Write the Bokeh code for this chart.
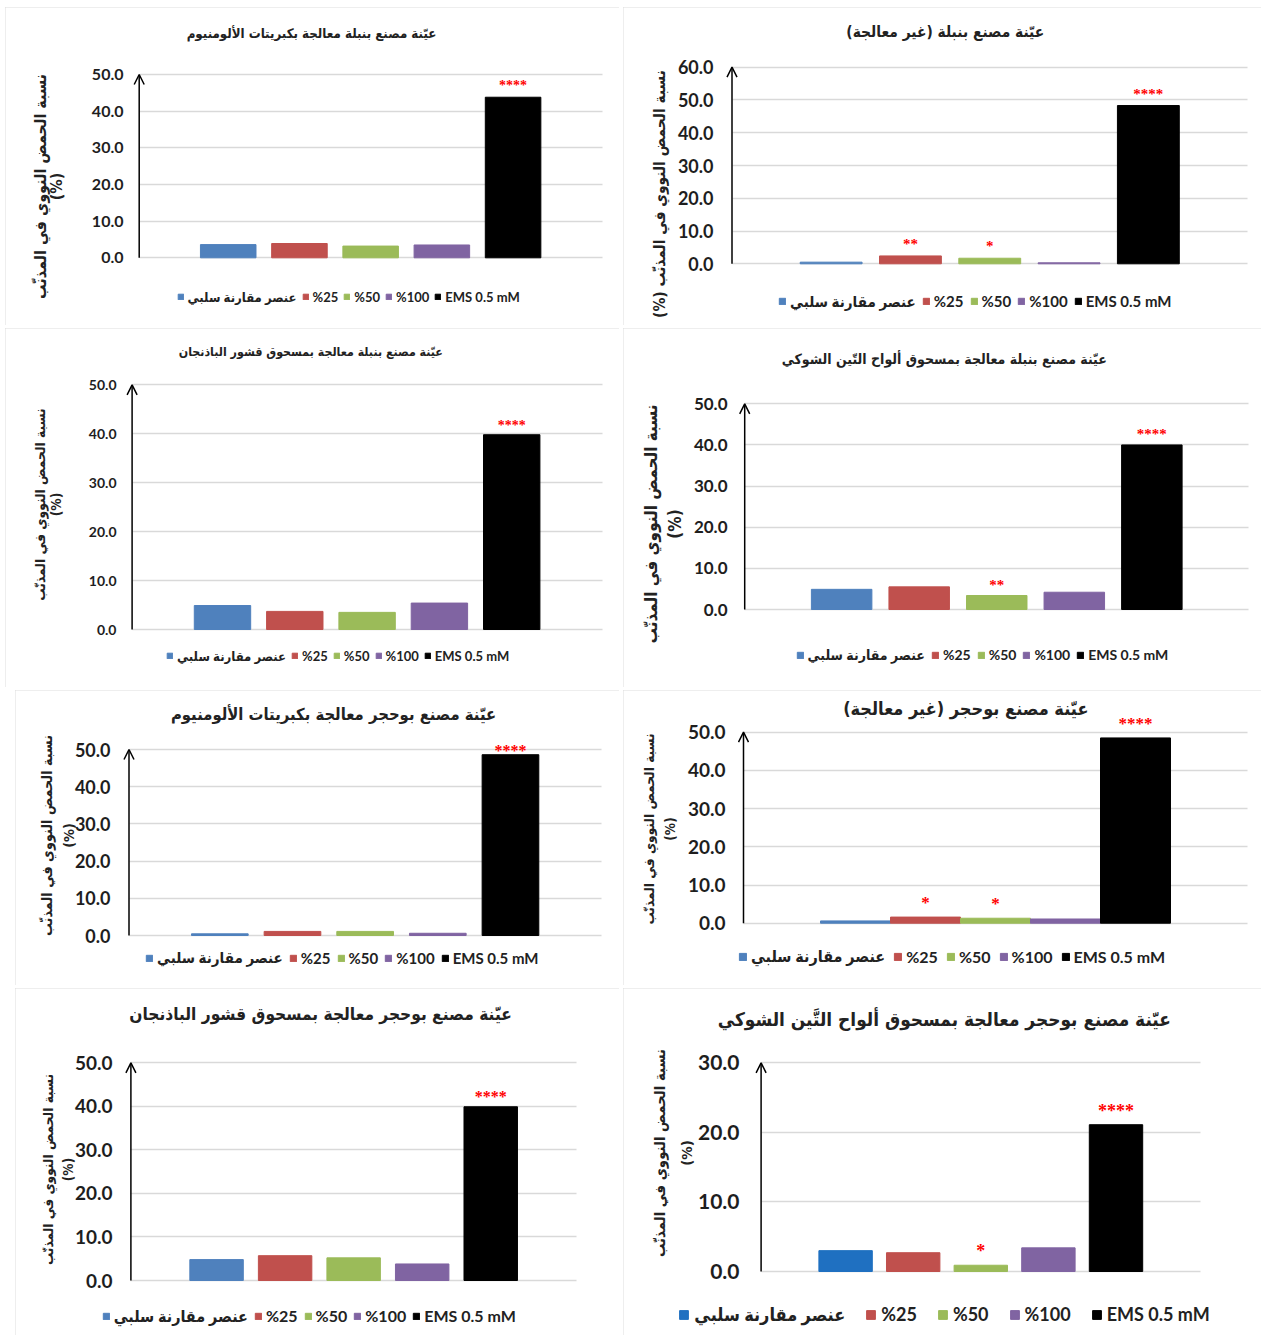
import math
from bokeh.plotting import figure
from bokeh.models import (Range1d, FixedTicker, PrintfTickFormatter, Label, LabelSet,
                          ColumnDataSource, Arrow, OpenHead, Spacer)
from bokeh.layouts import row, column
from bokeh.embed import file_html
from bokeh.resources import INLINE

# ---------------- data ----------------
categories = ["عنصر مقارنة سلبي", "%25", "%50", "%100", "EMS 0.5 mM"]

titles = [
    "عيّنة مصنع بنبلة معالجة بكبريتات الألومنيوم",
    "\u200fعيّنة مصنع بنبلة (غير معالجة)\u200f",
    "عيّنة مصنع بنبلة معالجة بمسحوق قشور الباذنجان",
    "عيّنة مصنع بنبلة معالجة بمسحوق ألواح التّين الشوكي",
    "عيّنة مصنع بوحجر معالجة بكبريتات الألومنيوم",
    "\u200fعيّنة مصنع بوحجر (غير معالجة)\u200f",
    "عيّنة مصنع بوحجر معالجة بمسحوق قشور الباذنجان",
    "عيّنة مصنع بوحجر معالجة بمسحوق ألواح التَّين الشوكي",
]

axis_title = "نسبة الحمض النووي في المذنّب"
axis_unit = "(%)"

vals_1 = [3.6, 3.9, 3.2, 3.5, 43.8]
vals_2 = [0.5, 2.4, 1.7, 0.3, 48.3]
vals_3 = [4.9, 3.7, 3.5, 5.4, 39.8]
vals_4 = [4.9, 5.5, 3.4, 4.2, 40.0]
vals_5 = [0.45, 1.1, 1.1, 0.6, 48.6]
vals_6 = [0.6, 1.6, 1.3, 1.1, 48.5]
vals_7 = [4.8, 5.7, 5.2, 3.8, 39.9]
vals_8 = [3.0, 2.7, 0.9, 3.4, 21.1]

stars_1 = ["", "", "", "", "****"]
stars_2 = ["", "**", "*", "", "****"]
stars_3 = ["", "", "", "", "****"]
stars_4 = ["", "", "**", "", "****"]
stars_5 = ["", "", "", "", "****"]
stars_6 = ["", "*", "*", "", "****"]
stars_7 = ["", "", "", "", "****"]
stars_8 = ["", "", "*", "", "****"]

y_max = [50, 60, 50, 50, 50, 50, 50, 30]
y_step = 10

# ---------------- styles / geometry (page pixel positions) ----------------
COLORS = ["#4F81BD", "#C0504D", "#9BBB59", "#8064A2", "#000000"]
COLORS_8 = ["#1F70C1", "#C0504D", "#9BBB59", "#8064A2", "#000000"]
AR_FONT = "DejaVu Sans Condensed, DejaVu Sans"
NUM_FONT = "Lato"
TXT = "#222222"

geo = [
    dict(fx=5, fy=7, w=614, h=318, pad=1.25, bw=0.78,
         ax=138.7, gr=601.6, y0=257.3, ym=74, tr=123.3, tk=16,
         tcx=311, tcy=33.3, tf=13.2, amx=39.5, apx=56, acy=186, af=16,
         llx=176.5, lcy=296.7, lf=13, lg=7, lsp=5, lst=4, sf=14, so=7),
    dict(fx=623, fy=7, w=638, h=318, pad=1.25, bw=0.78,
         ax=731.5, gr=1247, y0=263.3, ym=66.7, tr=713.4, tk=18,
         tcx=944.8, tcy=31.7, tf=15.4, amx=659, apx=None, acy=193.5, af=15.4,
         llx=778, lcy=301.7, lf=15, lg=8, lsp=6, lst=4, sf=15, so=7),
    dict(fx=5, fy=328, w=614, h=359, pad=1.25, bw=0.78,
         ax=131.6, gr=601.6, y0=629, ym=384.3, tr=115.8, tk=14,
         tcx=310.3, tcy=351, tf=12.3, amx=39.5, apx=55, acy=504, af=13.7,
         llx=166, lcy=656, lf=13, lg=7, lsp=5, lst=4, sf=14, so=5),
    dict(fx=623, fy=328, w=638, h=359, pad=1.25, bw=0.78,
         ax=744.2, gr=1248.3, y0=609, ym=403.3, tr=727.4, tk=17,
         tcx=943.8, tcy=358.3, tf=14, amx=650.7, apx=674, acy=523.5, af=17,
         llx=795.5, lcy=655, lf=14, lg=8, lsp=6, lst=4, sf=15, so=6),
    dict(fx=15, fy=690, w=604, h=295, pad=1.25, bw=0.78,
         ax=128.5, gr=600.8, y0=935, ym=749, tr=109.9, tk=18,
         tcx=333, tcy=714.3, tf=16.5, amx=46, apx=68, acy=835, af=14.3,
         llx=145, lcy=958.3, lf=15, lg=8, lsp=6, lst=4, sf=16, so=-1),
    dict(fx=623, fy=690, w=638, h=295, pad=1.6, bw=1.0,
         ax=743, gr=1247, y0=922.7, ym=731.7, tr=724.5, tk=19,
         tcx=965.3, tcy=708.3, tf=18, amx=648.7, apx=669, acy=828.5, af=13.6,
         llx=738, lcy=956.7, lf=16, lg=9, lsp=8, lst=4, sf=17, so=9),
    dict(fx=15, fy=988, w=604, h=347, pad=1.25, bw=0.78,
         ax=130.4, gr=575.9, y0=1280, ym=1062.3, tr=111.9, tk=19,
         tcx=320, tcy=1013.3, tf=17.2, amx=47.4, apx=67, acy=1169, af=13.6,
         llx=101.7, lcy=1316, lf=16, lg=8, lsp=6, lst=4, sf=16, so=5),
    dict(fx=623, fy=988, w=638, h=347, pad=1.25, bw=0.79,
         ax=760.6, gr=1200, y0=1271, ym=1062.3, tr=738.9, tk=21,
         tcx=943.8, tcy=1018.3, tf=18.9, amx=659, apx=685.6, acy=1152.5, af=14.8,
         llx=678.3, lcy=1314.3, lf=18, lg=11, lsp=20, lst=5, sf=18, so=8),
]


def make_panel(title, vals, stars, ymax, g, colors):
    n = len(categories)
    w, h = g["w"], g["h"]
    # pixel geometry relative to the figure
    ax_r = g["ax"] - g["fx"]
    gr_r = g["gr"] - g["fx"]
    y0_r = g["y0"] - g["fy"]
    ym_r = g["ym"] - g["fy"]
    sxp = (gr_r - ax_r) / (n - 1 + 2 * g["pad"])
    syp = (y0_r - ym_r) / ymax
    x_start = -g["pad"] - ax_r / sxp
    x_end = n - 1 + g["pad"] + (w - gr_r) / sxp
    y_start = -(h - y0_r) / syp
    y_end = ymax + ym_r / syp

    p = figure(width=w, height=h, output_backend="svg", toolbar_location=None,
               x_range=Range1d(x_start, x_end), y_range=Range1d(y_start, y_end),
               x_axis_location=None, min_border_left=0, min_border_right=0,
               min_border_top=0, min_border_bottom=0)
    p.title.visible = False
    p.outline_line_color = None
    p.background_fill_color = "white"
    p.border_fill_color = "white"
    p.styles = {"outline": "2px solid #dcdcdc", "outline-offset": "-2px"}
    for gx in p.xgrid:
        gx.grid_line_color = None
        gx.visible = False

    src = ColumnDataSource(dict(x=list(range(n)), top=vals, cat=categories, color=colors))
    p.vbar(x="x", top="top", width=g["bw"], fill_color="color", line_color="color",
           source=src, legend_field="cat")

    ticker = FixedTicker(ticks=list(range(0, ymax + 1, y_step)))
    ax = p.yaxis[0]
    ax.ticker = ticker
    ax.formatter = PrintfTickFormatter(format="%.1f")
    ax.axis_line_color = None
    ax.major_tick_line_color = None
    ax.minor_tick_line_color = None
    ax.major_tick_in = 0
    ax.major_tick_out = 0
    ax.major_label_text_font = NUM_FONT
    ax.major_label_text_font_style = "bold"
    ax.major_label_text_font_size = f"{g['tk']}px"
    ax.major_label_text_color = "#1e1e1e"
    ax.major_label_standoff = -int(round(g["tr"] - g["fx"]))
    yg = p.ygrid[0]
    yg.ticker = ticker
    yg.grid_line_color = "#d9d9d9"
    yg.grid_line_width = 1.5
    if "cross_bounds" in yg.properties():
        yg.cross_bounds = (-g["pad"], n - 1 + g["pad"])

    p.add_layout(Arrow(end=OpenHead(size=10, line_width=1.5, line_color="black"),
                       x_start=-g["pad"], y_start=0, x_end=-g["pad"], y_end=ymax,
                       line_width=1.5, line_color="black"))

    idx = [i for i, s in enumerate(stars) if s]
    ssrc = ColumnDataSource(dict(x=idx, y=[vals[i] for i in idx], t=[stars[i] for i in idx]))
    p.add_layout(LabelSet(x="x", y="y", text="t", source=ssrc, text_align="center",
                          text_baseline="alphabetic", y_offset=g["so"], text_color="#ff0000",
                          text_font=NUM_FONT, text_font_style="bold",
                          text_font_size=f"{g['sf']}px"))

    def lab(xpage, ypage, text, size, angle=0.0):
        p.add_layout(Label(x=xpage - g["fx"], y=h - (ypage - g["fy"]),
                           x_units="screen", y_units="screen", text=text, angle=angle,
                           text_align="center", text_baseline="middle", text_font=AR_FONT,
                           text_font_style="bold", text_font_size=f"{size}px",
                           text_color=TXT))

    lab(g["tcx"], g["tcy"], title, g["tf"])
    if g["apx"] is None:
        lab(g["amx"], g["acy"], axis_unit + " " + axis_title, g["af"], math.pi / 2)
    else:
        lab(g["amx"], g["acy"], axis_title, g["af"], math.pi / 2)
        lab(g["apx"], g["acy"], axis_unit, g["af"], math.pi / 2)

    lh = 1.2 * g["lf"]
    lg = p.legend[0]
    lg.location = (g["llx"] - g["fx"], h - (g["lcy"] - g["fy"]) - lh / 2)
    lg.orientation = "horizontal"
    lg.padding = 0
    lg.margin = 0
    lg.spacing = g["lsp"]
    lg.label_standoff = g["lst"]
    lg.glyph_width = g["lg"]
    lg.glyph_height = g["lg"]
    lg.label_height = g["lg"]
    lg.label_text_font = NUM_FONT + ", " + AR_FONT
    lg.label_text_font_style = "bold"
    lg.label_text_font_size = f"{g['lf']}px"
    lg.label_text_color = TXT
    lg.border_line_color = None
    lg.background_fill_alpha = 0
    return p


all_vals = [vals_1, vals_2, vals_3, vals_4, vals_5, vals_6, vals_7, vals_8]
all_stars = [stars_1, stars_2, stars_3, stars_4, stars_5, stars_6, stars_7, stars_8]
panels = []
for k in range(8):
    cols = COLORS_8 if k == 7 else COLORS
    panels.append(make_panel(titles[k], all_vals[k], all_stars[k], y_max[k], geo[k], cols))


def hs(wd):
    return Spacer(width=wd, height=1)


def vs(ht):
    return Spacer(width=1, height=ht)


layout = column(
    vs(7),
    row(hs(5), panels[0], hs(4), panels[1]),
    vs(3),
    row(hs(5), panels[2], hs(4), panels[3]),
    vs(3),
    row(hs(15), panels[4], hs(4), panels[5]),
    vs(3),
    row(hs(15), panels[6], hs(4), panels[7]),
)

open("out.html", "w").write(file_html(layout, INLINE))
